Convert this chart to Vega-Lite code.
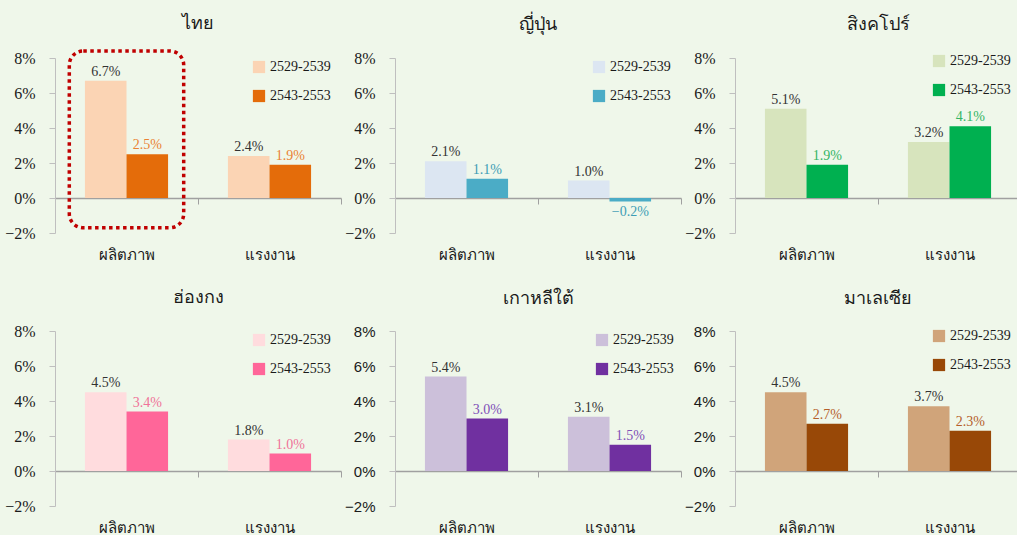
{
  "$schema": "https://vega.github.io/schema/vega-lite/v6.json",
  "background": "#EFF7EA",
  "padding": {"left": 4, "top": 15, "right": 0, "bottom": 0},
  "bounds": "flush",
  "config": {
    "view": {"stroke": null},
    "title": {"font": "Tahoma, sans-serif", "fontSize": 18, "fontWeight": "normal", "color": "#1a1a1a", "offset": 16, "anchor": "middle"},
    "text": {"font": "Liberation Serif", "fontSize": 14},
    "axisX": {"title": null, "offset": -35, "domainColor": "#A0A0A0", "domainWidth": 1.5, "tickBand": "extent", "tickColor": "#A0A0A0", "tickSize": 6, "labelPadding": 43, "labelAngle": 0, "labelFont": "Tahoma, sans-serif", "labelFontSize": 15, "labelColor": "#1a1a1a", "grid": false},
    "axisY": {"title": null, "format": ".0%", "values": [-0.02, 0, 0.02, 0.04, 0.06, 0.08], "domainColor": "#BFBFBF", "tickColor": "#BFBFBF", "tickSize": 6, "labelPadding": 14, "labelFontSize": 16, "labelFont": "Liberation Serif", "labelColor": "#1a1a1a", "grid": false},
    "legend": {"title": null, "orient": "none", "legendX": 197, "legendY": 2, "symbolType": "square", "symbolSize": 150, "labelFontSize": 14, "labelFont": "Liberation Serif", "labelColor": "#1a1a1a", "rowPadding": 15, "labelOffset": 4, "symbolStrokeWidth": 0}
  },
  "datasets": {
    "th": [
      {"category": "ผลิตภาพ", "period": "2529-2539", "value": 0.067},
      {"category": "ผลิตภาพ", "period": "2543-2553", "value": 0.025},
      {"category": "แรงงาน", "period": "2529-2539", "value": 0.024},
      {"category": "แรงงาน", "period": "2543-2553", "value": 0.019}
    ],
    "jp": [
      {"category": "ผลิตภาพ", "period": "2529-2539", "value": 0.021},
      {"category": "ผลิตภาพ", "period": "2543-2553", "value": 0.011},
      {"category": "แรงงาน", "period": "2529-2539", "value": 0.010},
      {"category": "แรงงาน", "period": "2543-2553", "value": -0.002}
    ],
    "sg": [
      {"category": "ผลิตภาพ", "period": "2529-2539", "value": 0.051},
      {"category": "ผลิตภาพ", "period": "2543-2553", "value": 0.019},
      {"category": "แรงงาน", "period": "2529-2539", "value": 0.032},
      {"category": "แรงงาน", "period": "2543-2553", "value": 0.041}
    ],
    "hk": [
      {"category": "ผลิตภาพ", "period": "2529-2539", "value": 0.045},
      {"category": "ผลิตภาพ", "period": "2543-2553", "value": 0.034},
      {"category": "แรงงาน", "period": "2529-2539", "value": 0.018},
      {"category": "แรงงาน", "period": "2543-2553", "value": 0.010}
    ],
    "kr": [
      {"category": "ผลิตภาพ", "period": "2529-2539", "value": 0.054},
      {"category": "ผลิตภาพ", "period": "2543-2553", "value": 0.030},
      {"category": "แรงงาน", "period": "2529-2539", "value": 0.031},
      {"category": "แรงงาน", "period": "2543-2553", "value": 0.015}
    ],
    "my": [
      {"category": "ผลิตภาพ", "period": "2529-2539", "value": 0.045},
      {"category": "ผลิตภาพ", "period": "2543-2553", "value": 0.027},
      {"category": "แรงงาน", "period": "2529-2539", "value": 0.037},
      {"category": "แรงงาน", "period": "2543-2553", "value": 0.023}
    ],
    "box": [
      {"category": "ผลิตภาพ", "top": 0.084, "bottom": -0.017}
    ]
  },
  "columns": 3,
  "spacing": {"column": 54, "row": 98},
  "concat": [
    {
      "title": "ไทย",
      "width": 286, "height": 175,
      "resolve": {"scale": {"color": "independent"}},
      "layer": [
        {
          "data": {"name": "th"},
          "mark": {"type": "bar"},
          "encoding": {
            "x": {"field": "category", "type": "nominal", "scale": {"domain": ["ผลิตภาพ", "แรงงาน"], "paddingInner": 0, "paddingOuter": 0}},
            "xOffset": {"field": "period", "type": "nominal", "scale": {"paddingOuter": 0.72, "paddingInner": 0}},
            "y": {"field": "value", "type": "quantitative", "stack": null, "scale": {"domain": [-0.02, 0.08], "nice": false, "zero": false}},
            "color": {"field": "period", "type": "nominal", "scale": {"domain": ["2529-2539", "2543-2553"], "range": ["#FBD4B4", "#E46C0A"]}}
          }
        },
        {
          "data": {"name": "th"},
          "transform": [{"filter": "datum.value >= 0"}],
          "mark": {"type": "text", "baseline": "bottom", "dy": -2},
          "encoding": {
            "x": {"field": "category", "type": "nominal"},
            "xOffset": {"field": "period", "type": "nominal"},
            "y": {"field": "value", "type": "quantitative", "stack": null},
            "text": {"field": "value", "type": "quantitative", "format": ".1%"},
            "color": {"field": "period", "type": "nominal", "legend": null, "scale": {"domain": ["2529-2539", "2543-2553"], "range": ["#333333", "#EA8233"]}}
          }
        },
        {
          "data": {"name": "box"},
          "mark": {"type": "bar", "width": {"band": 0.8}, "fillOpacity": 0, "stroke": "#C00000", "strokeWidth": 3.5, "strokeDash": [3.5, 3.5], "cornerRadius": 14},
          "encoding": {
            "x": {"field": "category", "type": "nominal"},
            "y": {"field": "top", "type": "quantitative"},
            "y2": {"field": "bottom"}
          }
        }
      ]
    },
    {
      "title": "ญี่ปุ่น",
      "width": 286, "height": 175,
      "resolve": {"scale": {"color": "independent"}},
      "layer": [
        {
          "data": {"name": "jp"},
          "mark": {"type": "bar"},
          "encoding": {
            "x": {"field": "category", "type": "nominal", "scale": {"domain": ["ผลิตภาพ", "แรงงาน"], "paddingInner": 0, "paddingOuter": 0}},
            "xOffset": {"field": "period", "type": "nominal", "scale": {"paddingOuter": 0.72, "paddingInner": 0}},
            "y": {"field": "value", "type": "quantitative", "stack": null, "scale": {"domain": [-0.02, 0.08], "nice": false, "zero": false}},
            "color": {"field": "period", "type": "nominal", "scale": {"domain": ["2529-2539", "2543-2553"], "range": ["#DCE6F2", "#4BACC6"]}}
          }
        },
        {
          "data": {"name": "jp"},
          "transform": [{"filter": "datum.value >= 0"}],
          "mark": {"type": "text", "baseline": "bottom", "dy": -2},
          "encoding": {
            "x": {"field": "category", "type": "nominal"},
            "xOffset": {"field": "period", "type": "nominal"},
            "y": {"field": "value", "type": "quantitative", "stack": null},
            "text": {"field": "value", "type": "quantitative", "format": ".1%"},
            "color": {"field": "period", "type": "nominal", "legend": null, "scale": {"domain": ["2529-2539", "2543-2553"], "range": ["#333333", "#3E9DB5"]}}
          }
        },
        {
          "data": {"name": "jp"},
          "transform": [{"filter": "datum.value < 0"}],
          "mark": {"type": "text", "baseline": "top", "dy": 3},
          "encoding": {
            "x": {"field": "category", "type": "nominal"},
            "xOffset": {"field": "period", "type": "nominal"},
            "y": {"field": "value", "type": "quantitative", "stack": null},
            "text": {"field": "value", "type": "quantitative", "format": ".1%"},
            "color": {"field": "period", "type": "nominal", "legend": null, "scale": {"domain": ["2529-2539", "2543-2553"], "range": ["#333333", "#3E9DB5"]}}
          }
        }
      ]
    },
    {
      "title": "สิงคโปร์",
      "width": 286, "height": 175,
      "resolve": {"scale": {"color": "independent"}},
      "layer": [
        {
          "data": {"name": "sg"},
          "mark": {"type": "bar"},
          "encoding": {
            "x": {"field": "category", "type": "nominal", "scale": {"domain": ["ผลิตภาพ", "แรงงาน"], "paddingInner": 0, "paddingOuter": 0}},
            "xOffset": {"field": "period", "type": "nominal", "scale": {"paddingOuter": 0.72, "paddingInner": 0}},
            "y": {"field": "value", "type": "quantitative", "stack": null, "scale": {"domain": [-0.02, 0.08], "nice": false, "zero": false}},
            "color": {"field": "period", "type": "nominal", "legend": {"legendY": -4}, "scale": {"domain": ["2529-2539", "2543-2553"], "range": ["#D7E4BD", "#00B050"]}}
          }
        },
        {
          "data": {"name": "sg"},
          "transform": [{"filter": "datum.value >= 0"}],
          "mark": {"type": "text", "baseline": "bottom", "dy": -2},
          "encoding": {
            "x": {"field": "category", "type": "nominal"},
            "xOffset": {"field": "period", "type": "nominal"},
            "y": {"field": "value", "type": "quantitative", "stack": null},
            "text": {"field": "value", "type": "quantitative", "format": ".1%"},
            "color": {"field": "period", "type": "nominal", "legend": null, "scale": {"domain": ["2529-2539", "2543-2553"], "range": ["#333333", "#33B565"]}}
          }
        }
      ]
    },
    {
      "title": "ฮ่องกง",
      "width": 286, "height": 175,
      "resolve": {"scale": {"color": "independent"}},
      "layer": [
        {
          "data": {"name": "hk"},
          "mark": {"type": "bar"},
          "encoding": {
            "x": {"field": "category", "type": "nominal", "scale": {"domain": ["ผลิตภาพ", "แรงงาน"], "paddingInner": 0, "paddingOuter": 0}},
            "xOffset": {"field": "period", "type": "nominal", "scale": {"paddingOuter": 0.72, "paddingInner": 0}},
            "y": {"field": "value", "type": "quantitative", "stack": null, "scale": {"domain": [-0.02, 0.08], "nice": false, "zero": false}},
            "color": {"field": "period", "type": "nominal", "scale": {"domain": ["2529-2539", "2543-2553"], "range": ["#FFDCDE", "#FF6699"]}}
          }
        },
        {
          "data": {"name": "hk"},
          "transform": [{"filter": "datum.value >= 0"}],
          "mark": {"type": "text", "baseline": "bottom", "dy": -2},
          "encoding": {
            "x": {"field": "category", "type": "nominal"},
            "xOffset": {"field": "period", "type": "nominal"},
            "y": {"field": "value", "type": "quantitative", "stack": null},
            "text": {"field": "value", "type": "quantitative", "format": ".1%"},
            "color": {"field": "period", "type": "nominal", "legend": null, "scale": {"domain": ["2529-2539", "2543-2553"], "range": ["#333333", "#F07399"]}}
          }
        }
      ]
    },
    {
      "title": "เกาหลีใต้",
      "width": 286, "height": 175,
      "resolve": {"scale": {"color": "independent"}},
      "layer": [
        {
          "data": {"name": "kr"},
          "mark": {"type": "bar"},
          "encoding": {
            "x": {"field": "category", "type": "nominal", "scale": {"domain": ["ผลิตภาพ", "แรงงาน"], "paddingInner": 0, "paddingOuter": 0}},
            "xOffset": {"field": "period", "type": "nominal", "scale": {"paddingOuter": 0.72, "paddingInner": 0}},
            "y": {"field": "value", "type": "quantitative", "stack": null, "axis": {"labelFont": "Liberation Sans", "labelFontSize": 15}, "scale": {"domain": [-0.02, 0.08], "nice": false, "zero": false}},
            "color": {"field": "period", "type": "nominal", "legend": {"legendX": 200}, "scale": {"domain": ["2529-2539", "2543-2553"], "range": ["#CCC0DA", "#7030A0"]}}
          }
        },
        {
          "data": {"name": "kr"},
          "transform": [{"filter": "datum.value >= 0"}],
          "mark": {"type": "text", "baseline": "bottom", "dy": -2},
          "encoding": {
            "x": {"field": "category", "type": "nominal"},
            "xOffset": {"field": "period", "type": "nominal"},
            "y": {"field": "value", "type": "quantitative", "stack": null},
            "text": {"field": "value", "type": "quantitative", "format": ".1%"},
            "color": {"field": "period", "type": "nominal", "legend": null, "scale": {"domain": ["2529-2539", "2543-2553"], "range": ["#333333", "#8050B8"]}}
          }
        }
      ]
    },
    {
      "title": "มาเลเซีย",
      "width": 286, "height": 175,
      "resolve": {"scale": {"color": "independent"}},
      "layer": [
        {
          "data": {"name": "my"},
          "mark": {"type": "bar"},
          "encoding": {
            "x": {"field": "category", "type": "nominal", "scale": {"domain": ["ผลิตภาพ", "แรงงาน"], "paddingInner": 0, "paddingOuter": 0}},
            "xOffset": {"field": "period", "type": "nominal", "scale": {"paddingOuter": 0.72, "paddingInner": 0}},
            "y": {"field": "value", "type": "quantitative", "stack": null, "axis": {"labelFont": "Liberation Sans", "labelFontSize": 15}, "scale": {"domain": [-0.02, 0.08], "nice": false, "zero": false}},
            "color": {"field": "period", "type": "nominal", "legend": {"legendY": -2}, "scale": {"domain": ["2529-2539", "2543-2553"], "range": ["#D0A47A", "#984807"]}}
          }
        },
        {
          "data": {"name": "my"},
          "transform": [{"filter": "datum.value >= 0"}],
          "mark": {"type": "text", "baseline": "bottom", "dy": -2},
          "encoding": {
            "x": {"field": "category", "type": "nominal"},
            "xOffset": {"field": "period", "type": "nominal"},
            "y": {"field": "value", "type": "quantitative", "stack": null},
            "text": {"field": "value", "type": "quantitative", "format": ".1%"},
            "color": {"field": "period", "type": "nominal", "legend": null, "scale": {"domain": ["2529-2539", "2543-2553"], "range": ["#333333", "#B5602A"]}}
          }
        }
      ]
    }
  ]
}
